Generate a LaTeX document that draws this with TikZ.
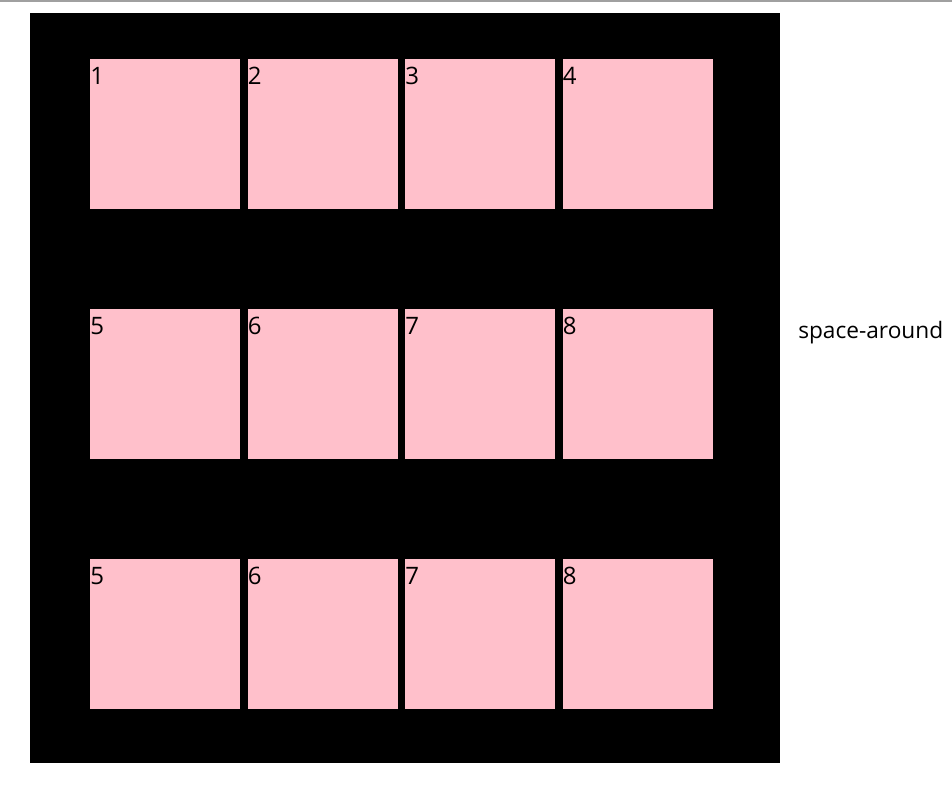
\documentclass[tikz,border=0pt]{standalone}
\usepackage{fontspec}
\setmainfont{Open Sans}
\definecolor{pinkc}{RGB}{255,192,203}
\definecolor{rulec}{RGB}{160,160,160}
\begin{document}
\begin{tikzpicture}[x=0.75pt,y=-0.75pt,
  cell/.style={fill=pinkc},
  lbl/.style={anchor=base west,inner sep=0pt,font=\fontsize{18pt}{21pt}\selectfont}]
\useasboundingbox (0,0) rectangle (952,807);
\fill[white] (0,0) rectangle (952,807);
\fill[rulec] (0,0) rectangle (952,1.5);
\fill[black] (30,13) rectangle (780,763);
\foreach \r/\y in {0/59,1/309,2/559}{
  \foreach \c/\x in {0/90,1/247.5,2/405,3/562.5}{
    \fill[cell] (\x,\y) rectangle ++(150,150);
  }
}
\foreach \c/\x in {0/90,1/247.5,2/405,3/562.5}{
  \pgfmathtruncatemacro\na{\c+1}
  \pgfmathtruncatemacro\nb{\c+5}
  \node[lbl] (a\na) at (\x,84) {\na};
  \node[lbl] (b\nb) at (\x,334) {\nb};
  \node[lbl] (c\nb) at (\x,584) {\nb};
}
\node[lbl,font=\fontsize{17pt}{20pt}\selectfont] (title) at (798,338) {space-around};
\end{tikzpicture}
\end{document}
